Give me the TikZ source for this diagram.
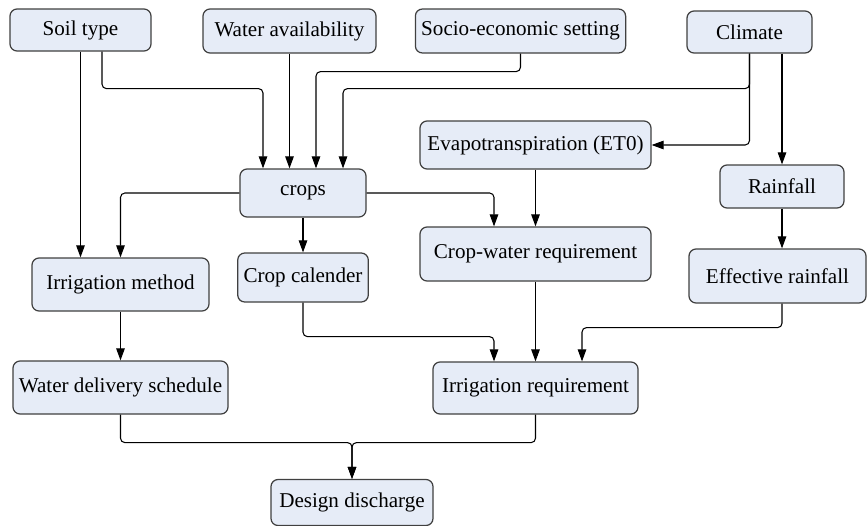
\documentclass[tikz,border=0pt]{standalone}
\usepackage{fontspec}
\setmainfont{Liberation Serif}
\usepackage{xcolor}
\usepackage{tikz}
\usetikzlibrary{arrows.meta, positioning, calc}

\definecolor{boxfill}{HTML}{E6ECF7}
\definecolor{boxline}{HTML}{404040}

\begin{document}
\begin{tikzpicture}[
    box/.style={draw=boxline, line width=0.7pt, rounded corners=4pt, fill=boxfill, minimum width=#1, align=center, font=\fontsize{12}{14}\selectfont},
    arr/.style={-{Triangle[length=2.4mm, width=1.7mm]}, line width=0.6pt, rounded corners=2.5pt}
]
    \useasboundingbox (0,0) rectangle (17.36,-10.50);

    \node[box=2.82cm, minimum height=0.84cm] (soil)      at (1.61,-0.60)  {Soil type};
    \node[box=3.46cm, minimum height=0.88cm] (water)     at (5.79,-0.62)  {Water availability};
    \node[box=3.90cm, minimum height=0.88cm] (socio)     at (10.41,-0.62) {Socio-economic setting};
    \node[box=2.50cm, minimum height=0.84cm] (climate)   at (14.99,-0.64) {Climate};
    \node[box=4.62cm, minimum height=0.96cm] (evapo)     at (10.71,-2.90) {Evapotranspiration (ET0)};
    \node[box=2.52cm, minimum height=0.96cm] (crops)     at (6.06,-3.86)  {crops};
    \node[box=2.48cm, minimum height=0.86cm] (rainfall)  at (15.64,-3.73) {Rainfall};
    \node[box=3.54cm, minimum height=1.06cm] (irrmethod) at (2.41,-5.69)  {Irrigation method};
    \node[box=2.52cm, minimum height=0.98cm] (calender)  at (6.06,-5.55)  {Crop calender};
    \node[box=4.62cm, minimum height=1.08cm] (cropwater) at (10.71,-5.08) {Crop-water requirement};
    \node[box=3.54cm, minimum height=1.08cm] (effective) at (15.55,-5.52) {Effective rainfall};
    \node[box=4.30cm, minimum height=1.06cm] (delivery)  at (2.41,-7.75)  {Water delivery schedule};
    \node[box=4.10cm, minimum height=1.04cm] (irrreq)    at (10.71,-7.76) {Irrigation requirement};
    \node[box=3.24cm, minimum height=0.92cm] (design)    at (7.04,-10.05) {Design discharge};

    % inputs to crops
    \draw[arr] ([xshift=0.43cm]soil.south) -- ++(0,-0.74) -| ([xshift=-0.80cm]crops.north);
    \draw[arr] (water.south) -- (water.south |- crops.north);
    \draw[arr] (socio.south) -- ++(0,-0.36) -| ([xshift=0.26cm]crops.north);
    \draw[arr] (climate.south) -- ++(0,-0.70) -| ([xshift=0.80cm]crops.north);

    % climate branch
    \draw[arr] (climate.south) |- (evapo.east);
    \draw[arr] ([xshift=0.65cm]climate.south) -- (rainfall.north);
    \draw[arr] (rainfall.south) -- (rainfall.south |- effective.north);

    % middle level
    \draw[arr] (soil.south) -- (soil.south |- irrmethod.north);
    \draw[arr] (crops.west) -| (irrmethod.north);
    \draw[arr] (crops.south) -- (calender.north);
    \draw[arr] (crops.east) -| ([xshift=-0.83cm]cropwater.north);
    \draw[arr] (evapo.south) -- (cropwater.north);

    % irrigation requirement
    \draw[arr] (irrmethod.south) -- (delivery.north);
    \draw[arr] (calender.south) -- ++(0,-0.68) -| ([xshift=-0.83cm]irrreq.north);
    \draw[arr] (cropwater.south) -- (irrreq.north);
    \draw[arr] ([xshift=0.09cm]effective.south) -- ++(0,-0.48) -| ([xshift=0.93cm]irrreq.north);

    % design discharge
    \draw[arr] (delivery.south) -- ++(0,-0.56) -| (design.north);
    \draw[arr] (irrreq.south) -- ++(0,-0.56) -| (design.north);
\end{tikzpicture}
\end{document}
